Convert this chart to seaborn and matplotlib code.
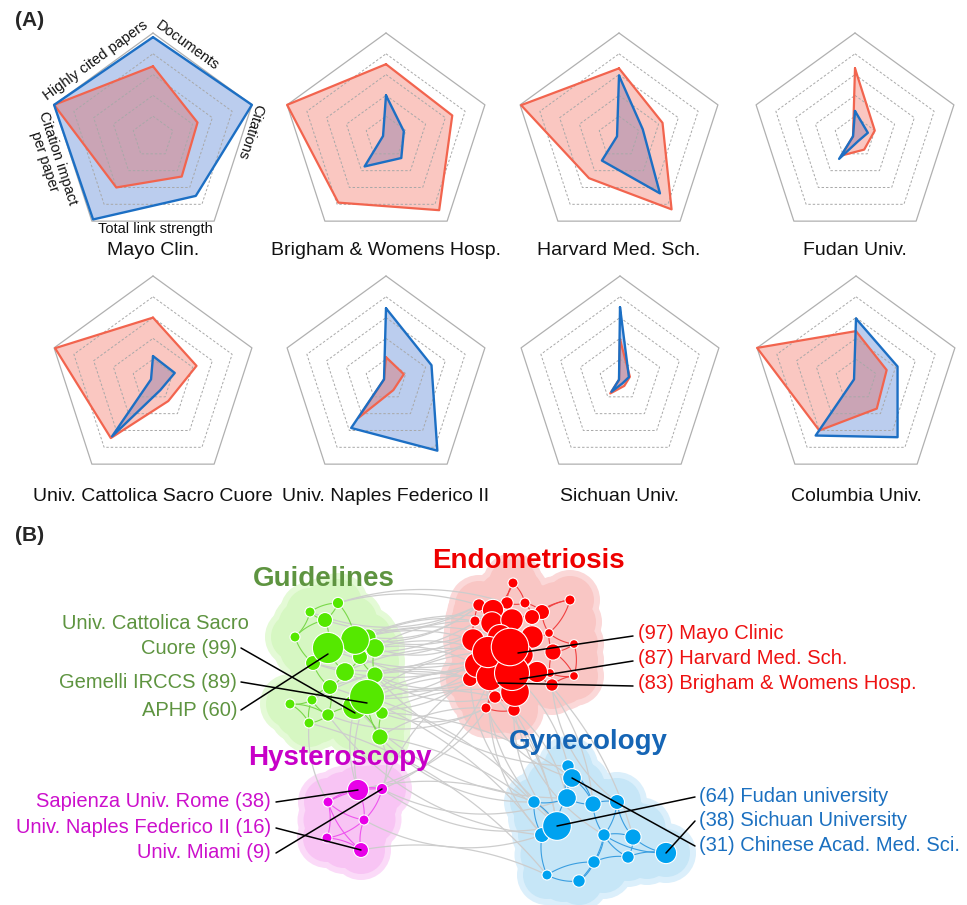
import numpy as np
import pandas as pd
import matplotlib.pyplot as plt
from matplotlib.patches import Circle
import seaborn as sns

# ---------------- (A) radar data ----------------
metrics = ['Documents', 'Citations', 'Total link strength',
           'Citation impact\nper paper', 'Highly cited papers']
institutions = ['Mayo Clin.', 'Brigham & Womens Hosp.', 'Harvard Med. Sch.', 'Fudan Univ.',
                'Univ. Cattolica Sacro Cuore', 'Univ. Naples Federico II',
                'Sichuan Univ.', 'Columbia Univ.']
blue_vals = [
    [0.96, 1.00, 0.70, 0.98, 1.00],
    [0.40, 0.18, 0.25, 0.35, 0.03],
    [0.59, 0.24, 0.67, 0.28, 0.02],
    [0.25, 0.13, 0.05, 0.26, 0.02],
    [0.23, 0.22, 0.12, 0.67, 0.02],
    [0.69, 0.46, 0.84, 0.57, 0.02],
    [0.70, 0.09, 0.04, 0.14, 0.01],
    [0.59, 0.42, 0.68, 0.66, 0.02],
]
red_vals = [
    [0.68, 0.45, 0.47, 0.60, 1.00],
    [0.70, 0.67, 0.87, 0.78, 1.00],
    [0.66, 0.44, 0.86, 0.49, 0.99],
    [0.66, 0.20, 0.15, 0.22, 0.02],
    [0.60, 0.44, 0.25, 0.69, 0.99],
    [0.22, 0.18, 0.12, 0.45, 0.02],
    [0.39, 0.10, 0.07, 0.16, 0.01],
    [0.47, 0.31, 0.34, 0.60, 1.00],
]

# ---------------- (B) network data (pixel layout) ----------------
green_x = [328, 355, 368, 375, 360, 345, 375, 330, 367, 355, 382, 328, 309, 290, 312, 313, 295, 310, 325, 338, 380]
green_y = [648, 640, 637, 648, 657, 672, 675, 687, 697, 707, 713, 715, 723, 704, 700, 663, 637, 612, 620, 603, 737]
green_d = [25, 23, 13, 15, 12, 15, 13, 12, 28, 20, 10, 10, 8, 8, 8, 12, 8, 8, 12, 9, 13]

red_x = [510, 488, 512, 515, 490, 473, 477, 492, 493, 512, 532, 537, 553, 532, 542, 525, 507, 479, 475, 513,
         570, 549, 574, 574, 552, 550, 470, 495, 486, 514, 500, 522]
red_y = [647, 652, 673, 692, 677, 640, 665, 623, 610, 620, 637, 672, 652, 617, 612, 603, 603, 605, 621, 583,
         600, 633, 644, 676, 685, 673, 679, 697, 708, 710, 637, 655]
red_d = [30, 25, 28, 23, 22, 18, 20, 18, 17, 18, 18, 17, 13, 12, 12, 8, 10, 10, 8, 8,
         8, 7, 7, 7, 10, 7, 12, 10, 8, 10, 20, 18]

mag_x = [358, 382, 328, 364, 327, 361]
mag_y = [790, 789, 802, 820, 838, 850]
mag_d = [17, 9, 8, 8, 8, 12]

blue_x = [568, 572, 567, 593, 617, 534, 557, 542, 604, 633, 666, 594, 628, 547, 579]
blue_y = [766, 778, 798, 804, 802, 802, 826, 835, 835, 837, 853, 862, 857, 875, 881]
blue_d = [10, 15, 15, 13, 12, 10, 23, 12, 10, 13, 17, 10, 10, 8, 10]

# links between clusters: (cluster, node, cluster, node)
cross_links = [
    ('g', 1, 'r', 17), ('g', 1, 'r', 5), ('g', 0, 'r', 8), ('g', 2, 'r', 18), ('g', 3, 'r', 5),
    ('g', 3, 'r', 1), ('g', 4, 'r', 6), ('g', 6, 'r', 26), ('g', 6, 'r', 4), ('g', 8, 'r', 1),
    ('g', 8, 'r', 6), ('g', 8, 'r', 2), ('g', 9, 'r', 26), ('g', 9, 'r', 27), ('g', 10, 'r', 28),
    ('g', 5, 'r', 1), ('g', 2, 'r', 7), ('g', 19, 'r', 16), ('g', 18, 'r', 17), ('g', 20, 'r', 28),
    ('g', 0, 'r', 7), ('g', 10, 'r', 3), ('g', 15, 'r', 0), ('g', 1, 'r', 9),
    ('g', 0, 'r', 0), ('g', 1, 'r', 30), ('g', 8, 'r', 30), ('g', 9, 'r', 4), ('g', 5, 'r', 26),
    ('g', 3, 'r', 6), ('g', 6, 'r', 27), ('g', 4, 'r', 18), ('g', 2, 'r', 17), ('g', 7, 'r', 26),
    ('g', 11, 'r', 28), ('g', 14, 'r', 6), ('g', 17, 'r', 17), ('g', 19, 'r', 8), ('g', 15, 'r', 5),
    ('g', 8, 'b', 6), ('g', 9, 'b', 2), ('g', 10, 'b', 1), ('g', 20, 'b', 5), ('g', 20, 'b', 6),
    ('g', 6, 'b', 0), ('g', 7, 'b', 7), ('g', 11, 'b', 7), ('g', 12, 'b', 13),
    ('r', 26, 'b', 5), ('r', 27, 'b', 6), ('r', 28, 'b', 1), ('r', 29, 'b', 2), ('r', 3, 'b', 6),
    ('r', 2, 'b', 0), ('r', 24, 'b', 4), ('r', 11, 'b', 3), ('r', 4, 'b', 7), ('r', 0, 'b', 9),
    ('r', 1, 'b', 5), ('r', 6, 'b', 6), ('r', 29, 'b', 8),
    ('m', 0, 'g', 8), ('m', 1, 'g', 20), ('m', 0, 'g', 9), ('m', 1, 'r', 4), ('m', 1, 'r', 26),
    ('m', 1, 'b', 6), ('m', 0, 'b', 5), ('m', 3, 'b', 7), ('m', 5, 'b', 13), ('m', 1, 'b', 2),
    ('m', 2, 'g', 12), ('m', 0, 'r', 27),
]

sns.set_theme(style="white")
plt.rcParams['font.family'] = ['Liberation Sans', 'DejaVu Sans']

W, H = 967, 905
fig = plt.figure(figsize=(W / 100, H / 100), dpi=100)

# ---------------- panel A ----------------
angles = np.deg2rad([90, 18, -54, -126, 162])
R_PX = 104
centers = [(153, 137), (386, 137), (619, 137), (855, 137),
           (153, 380), (386, 380), (620, 380), (856, 380)]
title_y = [255, 255, 255, 255, 501, 501, 501, 501]


def pent(vals):
    v = np.r_[vals, vals[0]]
    a = np.r_[angles, angles[0]]
    return v * np.cos(a), v * np.sin(a)


half = 125
lim = half / R_PX
for k, (cx, cy) in enumerate(centers):
    ax = fig.add_axes([(cx - half) / W, 1 - (cy + half) / H, 2 * half / W, 2 * half / H])
    ax.set_xlim(-lim, lim)
    ax.set_ylim(-lim, lim)
    ax.axis('off')
    for lev in [0.2, 0.4, 0.6, 0.8]:
        gx, gy = pent([lev] * 5)
        ax.plot(gx, gy, color='#a8a8a8', lw=0.7, ls=(0, (2.5, 2)))
    gx, gy = pent([1.0] * 5)
    ax.plot(gx, gy, color='#b0b0b0', lw=0.9)

    bx, by = pent(blue_vals[k])
    rx, ry = pent(red_vals[k])
    ax.fill(bx, by, color='#1e5ac8', alpha=0.3, lw=0)
    ax.fill(rx, ry, color='#f04632', alpha=0.3, lw=0)
    ax.plot(rx, ry, color='#f2644e', lw=1.6)
    ax.plot(bx, by, color='#1c6fc4', lw=1.7)

    fig.text(cx / W, 1 - title_y[k] / H, institutions[k], ha='center', va='baseline',
             fontsize=14, color='#111111')

    if k == 0:
        lab_pos = [(0.33, 0.88, -36), (0.93, 0.05, -108), (0.02, -0.88, 0),
                   (-0.98, -0.22, -72), (-0.55, 0.74, 36)]
        for name, (tx, ty, rot) in zip(metrics, lab_pos):
            ax.text(tx, ty, name, rotation=rot, rotation_mode='anchor', ha='center',
                    va='center', fontsize=10.5, color='#111111', linespacing=1.0,
                    multialignment='center')

fig.text(15 / W, 1 - 21 / H, '(A)', fontsize=15, fontweight='bold', va='center', ha='left')

# ---------------- panel B ----------------
top_b = 525
axB = fig.add_axes([0, 0, 1, (H - top_b) / H])
axB.set_xlim(0, W)
axB.set_ylim(H, top_b)
axB.axis('off')

clusters = {
    'g': (green_x, green_y, green_d, '#55e800', '#7ad84a', '#e4fad6', '#d6f7c2'),
    'r': (red_x, red_y, red_d, '#ff0000', '#f04040', '#fbd8d8', '#f9c6c4'),
    'm': (mag_x, mag_y, mag_d, '#e800e8', '#ee55ee', '#fbdaf8', '#f8c4f4'),
    'b': (blue_x, blue_y, blue_d, '#00a2f0', '#3a9ee0', '#dbeffb', '#c6e6f7'),
}
size_scale = 1.25


def curve(p, q, rad, **kw):
    p = np.asarray(p, float)
    q = np.asarray(q, float)
    d = q - p
    c = (p + q) / 2 + rad * np.array([-d[1], d[0]])
    t = np.linspace(0, 1, 40)[:, None]
    pts = (1 - t) ** 2 * p + 2 * (1 - t) * t * c + t ** 2 * q
    axB.plot(pts[:, 0], pts[:, 1], **kw)


def knn_edges(xs, ys, k=3):
    pts = np.column_stack([xs, ys]).astype(float)
    out = set()
    for i in range(len(pts)):
        dist = np.hypot(*(pts - pts[i]).T)
        for j in np.argsort(dist)[1:k + 1]:
            out.add(tuple(sorted((i, int(j)))))
    return sorted(out)


# cluster clouds (circles on nodes and on the midpoints of their links)
for key, (xs, ys, ds, ncol, ecol, soft, fill) in clusters.items():
    cx_ = list(xs)
    cy_ = list(ys)
    for i, j in knn_edges(xs, ys, 4):
        cx_.append((xs[i] + xs[j]) / 2)
        cy_.append((ys[i] + ys[j]) / 2)
    for x, y in zip(cx_, cy_):
        axB.add_patch(Circle((x, y), 30, color=soft, lw=0, zorder=1))
    for x, y in zip(cx_, cy_):
        axB.add_patch(Circle((x, y), 24, color=fill, lw=0, zorder=1.1))

# grey links between clusters
for i, (c1, a, c2, b) in enumerate(cross_links):
    p = (clusters[c1][0][a], clusters[c1][1][a])
    q = (clusters[c2][0][b], clusters[c2][1][b])
    curve(p, q, 0.22 if i % 2 == 0 else -0.16, color='#cdcdcd', lw=0.9, zorder=2)

# links inside clusters
for key, (xs, ys, ds, ncol, ecol, soft, fill) in clusters.items():
    for n, (i, j) in enumerate(knn_edges(xs, ys, 3)):
        curve((xs[i], ys[i]), (xs[j], ys[j]), 0.15 if n % 2 else -0.15,
              color=ecol, lw=0.8, zorder=3)

# nodes
for key, (xs, ys, ds, ncol, ecol, soft, fill) in clusters.items():
    df = pd.DataFrame({'x': xs, 'y': ys, 'd': ds}).sort_values('d')
    sns.scatterplot(data=df, x='x', y='y', s=(df['d'] * 0.72 * size_scale) ** 2, color=ncol,
                    edgecolor='white', linewidth=0.8, ax=axB, legend=False, zorder=4)
axB.set_xlim(0, W)
axB.set_ylim(H, top_b)
axB.axis('off')

# cluster titles
for txt, x, y, col in [('Guidelines', 324, 579, '#5e9440'), ('Endometriosis', 528, 561, '#ee0000'),
                       ('Hysteroscopy', 340, 758, '#c800c8'), ('Gynecology', 588, 742, '#1565b5')]:
    axB.text(x, y, txt, ha='center', va='center', fontsize=20, fontweight='bold', color=col, zorder=6)

# labelled institutions
green_labels = [('Cuore (99)', 648, 9), ('Gemelli IRCCS (89)', 682, 8), ('APHP (60)', 710, 0)]
red_labels = [('(97) Mayo Clinic', 633, 0), ('(87) Harvard Med. Sch.', 658, 2),
              ('(83) Brigham & Womens Hosp.', 683, 4)]
mag_labels = [('Sapienza Univ. Rome (38)', 801, 0), ('Univ. Naples Federico II (16)', 827, 5),
              ('Univ. Miami (9)', 852, 1)]
blue_labels = [('(64) Fudan university', 796, 6), ('(38) Sichuan University', 820, 10),
               ('(31) Chinese Acad. Med. Sci.', 845, 1)]

fs = 14.5
axB.text(249, 623, 'Univ. Cattolica Sacro', ha='right', va='center', fontsize=fs, color='#5e9440', zorder=6)
for txt, y, n in green_labels:
    axB.text(237, y, txt, ha='right', va='center', fontsize=fs, color='#5e9440', zorder=6)
    axB.plot([241, green_x[n]], [y, green_y[n] + 6], color='black', lw=1.1, zorder=5)
for txt, y, n in red_labels:
    axB.text(638, y, txt, ha='left', va='center', fontsize=fs, color='#ee1111', zorder=6)
    axB.plot([633, red_x[n] + 8], [y + 3, red_y[n] + 6], color='black', lw=1.1, zorder=5)
for txt, y, n in mag_labels:
    axB.text(271, y, txt, ha='right', va='center', fontsize=fs, color='#cc10cc', zorder=6)
    axB.plot([276, mag_x[n]], [y + 1, mag_y[n]], color='black', lw=1.1, zorder=5)
for txt, y, n in blue_labels:
    axB.text(699, y, txt, ha='left', va='center', fontsize=fs, color='#1b70c0', zorder=6)
    axB.plot([695, blue_x[n]], [y + 1, blue_y[n]], color='black', lw=1.1, zorder=5)

fig.text(15 / W, 1 - 535 / H, '(B)', fontsize=15, fontweight='bold', va='center', ha='left')

fig.savefig('out.png', dpi=100)
